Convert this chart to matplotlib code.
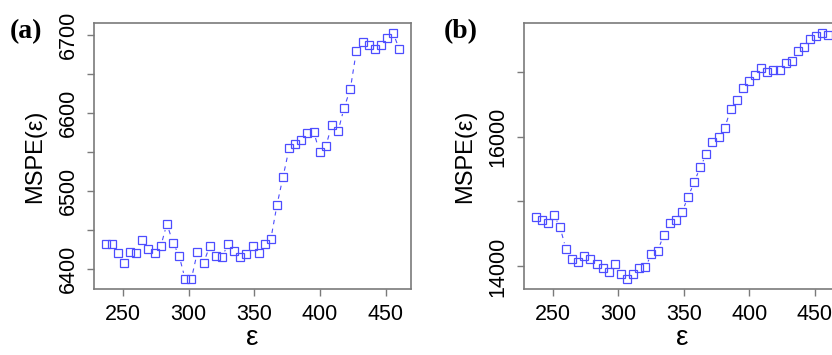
import numpy as np
import matplotlib
matplotlib.use("Agg")
import matplotlib.pyplot as plt

# --- data ---
eps = [237.0, 241.6, 246.3, 250.9, 255.6, 260.2, 264.9, 269.5, 274.2, 278.8,
       283.5, 288.1, 292.8, 297.4, 302.1, 306.7, 311.4, 316.0, 320.7, 325.3,
       330.0, 334.6, 339.3, 343.9, 348.6, 353.2, 357.9, 362.5, 367.2, 371.8,
       376.5, 381.1, 385.8, 390.4, 395.1, 399.7, 404.4, 409.0, 413.7, 418.3,
       423.0, 427.6, 432.3, 436.9, 441.6, 446.2, 450.9, 455.5, 460.2]

mspe_a = [6432, 6432, 6421, 6408, 6422, 6421, 6437, 6426, 6421, 6429,
          6458, 6434, 6417, 6387, 6387, 6422, 6408, 6429, 6417, 6415,
          6432, 6423, 6416, 6419, 6430, 6421, 6432, 6438, 6482, 6518,
          6555, 6560, 6566, 6574, 6576, 6550, 6558, 6585, 6577, 6607,
          6631, 6680, 6691, 6688, 6682, 6688, 6697, 6703, 6682]

mspe_b = [14754, 14718, 14672, 14795, 14600, 14262, 14108, 14067, 14154, 14108,
          14036, 13974, 13908, 14031, 13882, 13805, 13882, 13974, 13985, 14195,
          14241, 14477, 14667, 14718, 14836, 15067, 15297, 15528, 15728, 15913,
          15995, 16128, 16420, 16569, 16744, 16856, 16954, 17056, 17000, 17031,
          17031, 17128, 17159, 17323, 17379, 17497, 17554, 17595, 17559]

xticks = [250, 300, 350, 400, 450]
yticks_a = [6400, 6450, 6500, 6550, 6600, 6650, 6700]
ylabels_a = ["6400", "", "6500", "", "6600", "", "6700"]
yticks_b = [14000, 15000, 16000, 17000]
ylabels_b = ["14000", "", "16000", ""]

W, H = 832, 355
col = "#4d4dff"
gray = "#7a7a7a"
plt.rcParams["font.family"] = ["Liberation Sans", "DejaVu Sans"]

fig = plt.figure(figsize=(W / 100, H / 100), dpi=100)


def r_limits(v):
    # R style 4% padding
    lo, hi = min(v), max(v)
    d = (hi - lo) * 0.04
    return lo - d, hi + d


def panel(left, right, y, yt, yl, tag, tag_x):
    ax = fig.add_axes([left / W, 1 - 289 / H, (right - left) / W, (289 - 23) / H])
    ax.set_xlim(*r_limits(eps))
    ax.set_ylim(*r_limits(y))
    # type="b" style: dashed segments with a gap around each point
    pts = ax.transData.transform(np.column_stack([eps, y]))
    inv = ax.transData.inverted()
    gap = 6.5
    for p0, p1 in zip(pts[:-1], pts[1:]):
        d = p1 - p0
        L = np.hypot(d[0], d[1])
        if L <= 2 * gap + 1:
            continue
        u = d / L
        a = inv.transform(p0 + u * gap)
        b = inv.transform(p1 - u * gap)
        ax.plot([a[0], b[0]], [a[1], b[1]], color=col, lw=0.8,
                dashes=(4, 4), solid_capstyle="butt", dash_capstyle="butt")
    ax.plot(eps, y, ls="none", marker="s", ms=5.5, mfc="none",
            mec=col, mew=0.9)
    ax.set_xticks(xticks)
    ax.set_xticklabels([str(t) for t in xticks])
    ax.set_yticks(yt)
    ax.set_yticklabels(yl, rotation=90, va="center")
    ax.tick_params(length=5, width=1.0, color=gray, labelsize=15.5)
    ax.tick_params(axis="x", pad=6)
    ax.tick_params(axis="y", pad=6)
    for s in ax.spines.values():
        s.set_color(gray)
        s.set_linewidth(1.2)
    ax.set_xlabel("ε", fontsize=20, labelpad=0)
    ax.set_ylabel("MSPE(ε)", fontsize=17, labelpad=8)
    fig.text(tag_x / W, 1 - 32 / H, tag, family="Liberation Serif",
             fontweight="bold", fontsize=20, va="center")
    return ax


panel(94, 411, mspe_a, yticks_a, ylabels_a, "(a)", 10)
panel(524, 840, mspe_b, yticks_b, ylabels_b, "(b)", 444)

fig.savefig("out.png", dpi=100)
